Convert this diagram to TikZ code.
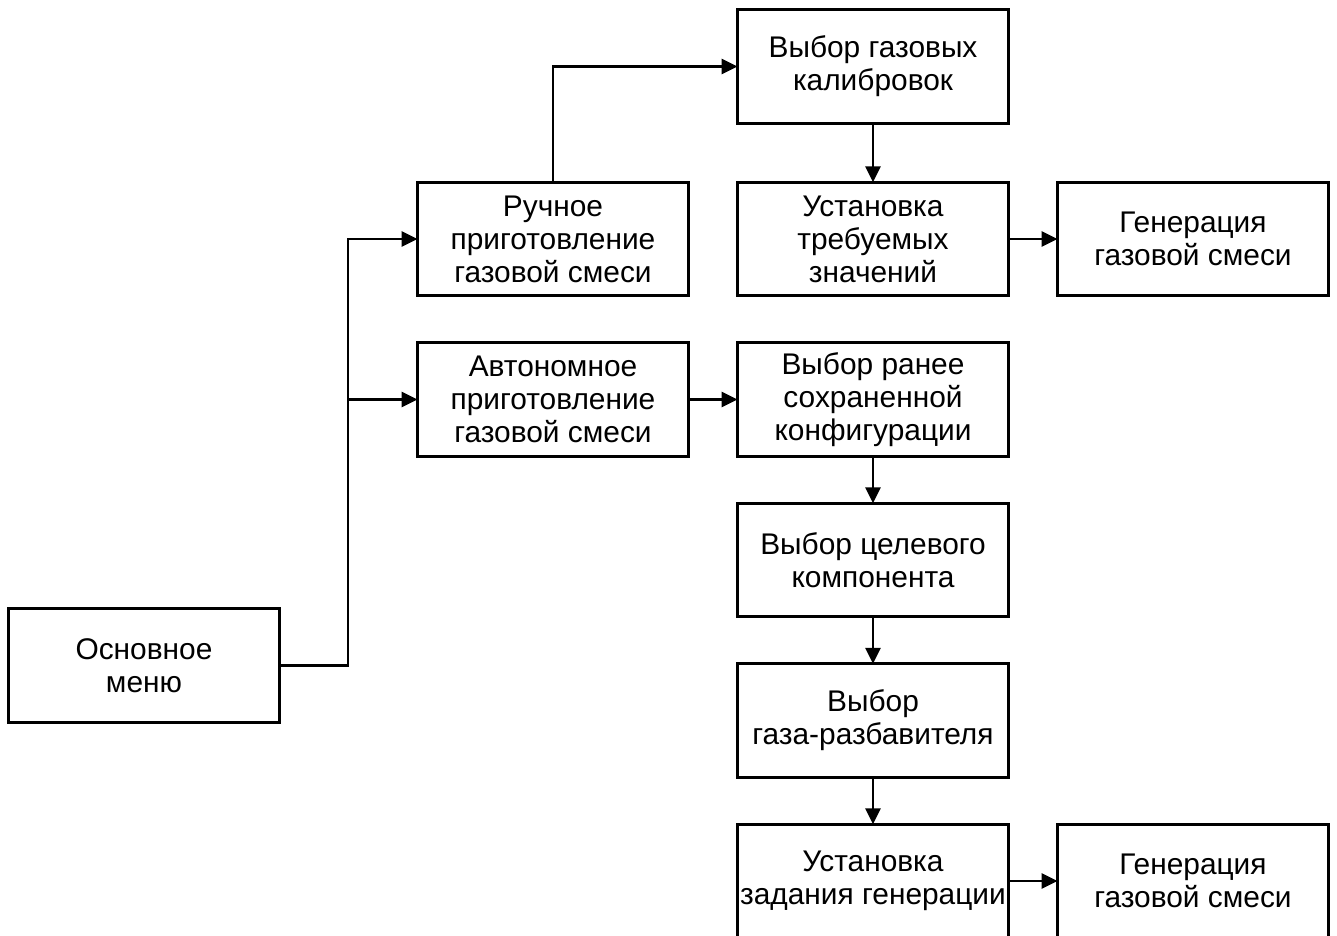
\documentclass[tikz,border=0pt]{standalone}
\usepackage{fontspec}
\setmainfont{Liberation Sans}
\usetikzlibrary{arrows.meta, positioning}

\begin{document}
\begin{tikzpicture}[
node distance=0.94cm and 0.98cm,
% Define block styles
block/.style = {rectangle, minimum width=5.42cm, minimum height=2.27cm, align=center, draw=black, line width=1.6pt, inner sep=1pt, outer sep=0pt, font=\fontsize{17}{18.8}\selectfont},
arrow/.style = {line width=1.6pt,->,>={Triangle[length=0.32cm,width=0.3cm]}}
]
\useasboundingbox (0,0) rectangle (26.74,-18.7);
\clip (0,0) rectangle (26.74,-18.7);

% Nodes
\node (menu) [block] at (2.88,-13.31) {Основное\\меню};
\node (manual) [block] at (11.06,-4.78) {Ручное\\приготовление\\газовой смеси};
\node (auto) [block, below=of manual] {Автономное\\приготовление\\газовой смеси};

% Manual branch
\node (setVals) [block, right=of manual] {Установка\\требуемых\\значений};
\node (calib) [block, above=1.18cm of setVals] {Выбор газовых\\калибровок};
\node (genTop) [block, right=of setVals] {Генерация\\газовой смеси};

% Autonomous branch
\node (saved) [block, right=of auto] {Выбор ранее\\сохраненной\\конфигурации};
\node (target) [block, below=of saved] {Выбор целевого\\компонента};
\node (diluent) [block, below=of target] {Выбор\\газа-разбавителя};
\node (task) [block, below=of diluent] {Установка\\задания генерации};
\node (genBottom) [block, right=of task] {Генерация\\газовой смеси};

\coordinate (split) at (6.96,0);

% Arrows
\draw [arrow] (menu.east) -- (split |- menu.east) |- (manual.west);
\draw [arrow] (split |- auto.west) -- (auto.west);
\draw [arrow] (manual.north) |- (calib.west);
\draw [arrow] (calib) -- (setVals);
\draw [arrow] (setVals) -- (genTop);
\draw [arrow] (auto) -- (saved);
\draw [arrow] (saved) -- (target);
\draw [arrow] (target) -- (diluent);
\draw [arrow] (diluent) -- (task);
\draw [arrow] (task) -- (genBottom);
\end{tikzpicture}
\end{document}
